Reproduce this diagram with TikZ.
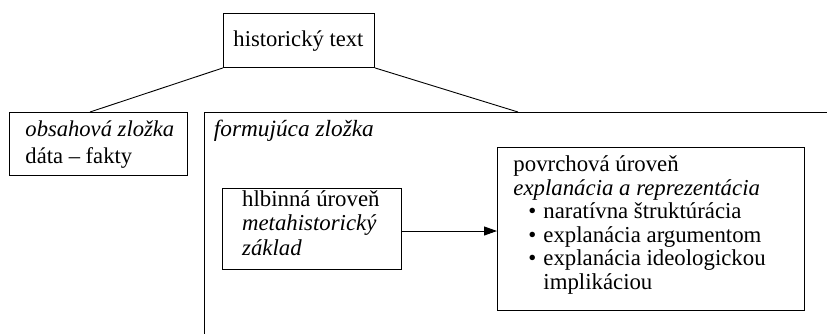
\documentclass[tikz,border=0pt]{standalone}
\usepackage{fontspec}
\setmainfont{Liberation Serif}
\usetikzlibrary{arrows.meta}
\begin{document}
\begin{tikzpicture}[x=1bp,y=-1bp,line width=0.9bp,
  frame/.style={draw,rectangle,anchor=north west,inner sep=0pt},
  txt/.style={anchor=base west,inner sep=0pt,align=left,font=\fontsize{22.8bp}{24.1bp}\selectfont},
  povtxt/.style={anchor=base west,inner sep=0pt,align=left,font=\fontsize{22.8bp}{23.6bp}\selectfont},
  bigtxt/.style={anchor=base west,inner sep=0pt,align=left,font=\fontsize{22.6bp}{26.6bp}\selectfont}]
\useasboundingbox (0,0) rectangle (827,334);
% boxes
\node[frame,minimum width=151bp,minimum height=54bp] (top) at (223,13) {};
\node[frame,minimum width=178bp,minimum height=63bp] (left) at (9,112) {};
\node[frame,minimum width=179bp,minimum height=81bp] (hl) at (222,188) {};
\node[frame,minimum width=307bp,minimum height=163bp] (pov) at (497,147) {};
% texts (base anchor = baseline of last line)
\node[bigtxt] (toptext) at (233,46.7) {historický text};
\node[bigtxt] (lefttext) at (25,163.3) {\textit{obsahová zložka}\\dáta – fakty};
\node[bigtxt,font=\fontsize{23.3bp}{26.6bp}\selectfont] (formtext) at (213.5,136.7) {\textit{formujúca zložka}};
\node[txt] (hltext) at (241.7,255) {hlbinná úroveň\\\textit{metahistorický}\\\textit{základ}};
\node[povtxt] (povtext) at (513,289.5) {povrchová úroveň\\\textit{explanácia a reprezentácia}\\
  \hspace*{15bp}•\hspace{7bp}naratívna štruktúrácia\\
  \hspace*{15bp}•\hspace{7bp}explanácia argumentom\\
  \hspace*{15bp}•\hspace{7bp}explanácia ideologickou\\
  \hspace*{30bp}implikáciou};
% frame of formujúca zložka
\coordinate (ftl) at (204,112);
\coordinate (ftr) at (827,112);
\coordinate (fbl) at (204,334);
\draw (ftr) -- (ftl) -- (fbl);
% connectors
\coordinate (lj) at (90,112);
\coordinate (rj) at (518,112);
\draw (top.south west) -- (lj);
\draw (top.south east) -- (rj);
\draw[-{Triangle[length=13bp,width=9bp]}] (hl.east |- 0,231) -- (pov.west |- 0,231);
\end{tikzpicture}
\end{document}
